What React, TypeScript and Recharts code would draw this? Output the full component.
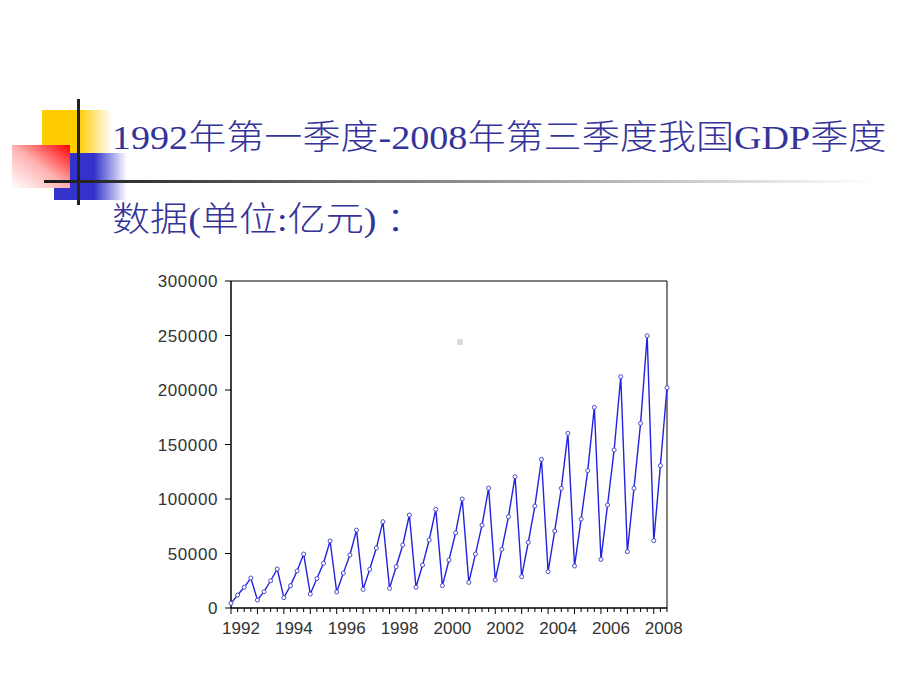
import React from "react";
import {
  LineChart,
  Line,
  XAxis,
  YAxis,
  ReferenceArea,
} from "recharts";

// cumulative GDP by quarter (亿元), 1992Q1 .. 2008Q3
const FIRST_YEAR = 1992;
const gdp1992 = [4300, 11900, 19000, 27500];
const gdp1993 = [7300, 15000, 25000, 35800];
const gdp1994 = [9500, 20500, 34000, 49500];
const gdp1995 = [12800, 27000, 41000, 61500];
const gdp1996 = [14700, 32000, 48600, 71500];
const gdp1997 = [17100, 35500, 55000, 79200];
const gdp1998 = [18000, 37900, 57800, 85300];
const gdp1999 = [19000, 39400, 62400, 90500];
const gdp2000 = [20500, 44000, 69000, 100000];
const gdp2001 = [23500, 49500, 76000, 110000];
const gdp2002 = [25700, 53800, 83800, 120500];
const gdp2003 = [28700, 60200, 93500, 136400];
const gdp2004 = [33300, 70600, 109800, 160200];
const gdp2005 = [38500, 81600, 126000, 184100];
const gdp2006 = [44600, 94500, 145000, 212200];
const gdp2007 = [51700, 109800, 169400, 249800];
const gdp2008 = [61800, 130600, 202100];

const yTicks = [0, 50000, 100000, 150000, 200000, 250000, 300000];

const gdpValues = [
  ...gdp1992, ...gdp1993, ...gdp1994, ...gdp1995, ...gdp1996, ...gdp1997,
  ...gdp1998, ...gdp1999, ...gdp2000, ...gdp2001, ...gdp2002, ...gdp2003,
  ...gdp2004, ...gdp2005, ...gdp2006, ...gdp2007, ...gdp2008,
];

const data = gdpValues.map((v, i) => ({ idx: i, gdp: v }));
const xTicks = data.map((d) => d.idx);
const lastIdx = data.length - 1;

const TITLE_COLOR = "#333399";
const LINE_COLOR = "#2222e0";

const QuarterTick = (props: any) => {
  const { x, y, payload } = props;
  const i = payload.value as number;
  const major = i % 4 === 0;
  const year = FIRST_YEAR + i / 4;
  const showLabel = major && (year - FIRST_YEAR) % 2 === 0;
  return (
    <g>
      <line x1={x} x2={x} y1={y} y2={y + (major ? 6 : 4)} stroke="#000" />
      {showLabel && (
        <text
          x={x + 10}
          y={y + 26}
          textAnchor="middle"
          fontSize={17}
          fill="#333"
          fontFamily="'Liberation Sans', Arial, sans-serif"
        >
          {year}
        </text>
      )}
    </g>
  );
};

const abs = (s: React.CSSProperties): React.CSSProperties => ({
  position: "absolute",
  ...s,
});

export default function App() {
  return (
    <div
      style={abs({
        left: 0,
        top: 0,
        width: 920,
        height: 690,
        background: "#fff",
        overflow: "hidden",
      })}
    >
      {/* slide decoration */}
      <div
        style={abs({
          left: 42,
          top: 110,
          width: 70,
          height: 43,
          background: "linear-gradient(to right, #ffcc00 0%, #ffcc00 52%, #ffffff 100%)",
        })}
      />
      <div
        style={abs({
          left: 54,
          top: 153,
          width: 73,
          height: 47,
          background: "linear-gradient(to right, #3333cc 0%, #3333cc 55%, #ffffff 100%)",
        })}
      />
      <div
        style={abs({
          left: 12,
          top: 145,
          width: 58,
          height: 43,
          background: "linear-gradient(to bottom left, #ff0000 0%, #ffb0b0 50%, #ffffff 100%)",
        })}
      />
      <div style={abs({ left: 77, top: 99, width: 3, height: 106, background: "#222" })} />
      <div
        style={abs({
          left: 44,
          top: 180,
          width: 830,
          height: 3,
          background: "linear-gradient(to right, #1a1a1a 0%, #ffffff 100%)",
        })}
      />
      <div style={abs({ left: 457, top: 339, width: 6, height: 6, background: "#dadada" })} />

      {/* title */}
      <div
        style={abs({
          left: 112,
          top: 118,
          fontSize: 34,
          lineHeight: "40px",
          color: TITLE_COLOR,
          fontFamily: "'Liberation Serif', 'Noto Sans CJK SC', serif",
          fontWeight: 300,
          whiteSpace: "nowrap",
          transform: "scaleX(1.12)",
          transformOrigin: "left center",
        })}
      >
        1992年第一季度-2008年第三季度我国GDP季度
      </div>
      <div
        style={abs({
          left: 112,
          top: 200,
          fontSize: 34,
          lineHeight: "40px",
          color: TITLE_COLOR,
          fontFamily: "'Liberation Serif', 'Noto Sans CJK SC', serif",
          fontWeight: 300,
          whiteSpace: "nowrap",
          transform: "scaleX(1.12)",
          transformOrigin: "left center",
        })}
      >
        数据(单位:亿元) ：
      </div>

      {/* chart */}
      <div style={abs({ left: 140, top: 265 })}>
        <LineChart
          width={570}
          height={380}
          data={data}
          margin={{ top: 16, right: 43, bottom: 0, left: 0 }}
        >
          <XAxis
            dataKey="idx"
            type="number"
            domain={[0, lastIdx]}
            ticks={xTicks}
            interval={0}
            height={37}
            tickLine={false}
            tickSize={0}
            tickMargin={0}
            tick={<QuarterTick />}
            axisLine={{ stroke: "#000" }}
          />
          <YAxis
            type="number"
            domain={[0, 300000]}
            ticks={yTicks}
            interval={0}
            width={91}
            tickSize={6}
            tickMargin={7}
            axisLine={{ stroke: "#000" }}
            tickLine={{ stroke: "#000" }}
            tick={{
              fontSize: 17,
              fill: "#333",
              fontFamily: "'Liberation Sans', Arial, sans-serif",
              letterSpacing: 0.6,
            }}
          />
          <ReferenceArea
            x1={0}
            x2={lastIdx}
            y1={0}
            y2={300000}
            fill="none"
            stroke="#000"
            strokeWidth={1}
          />
          <Line
            type="linear"
            dataKey="gdp"
            stroke={LINE_COLOR}
            strokeWidth={1.4}
            dot={{ r: 2, stroke: "#4b4bcc", strokeWidth: 1, fill: "#fff" }}
            activeDot={false}
            isAnimationActive={false}
          />
        </LineChart>
      </div>
    </div>
  );
}
